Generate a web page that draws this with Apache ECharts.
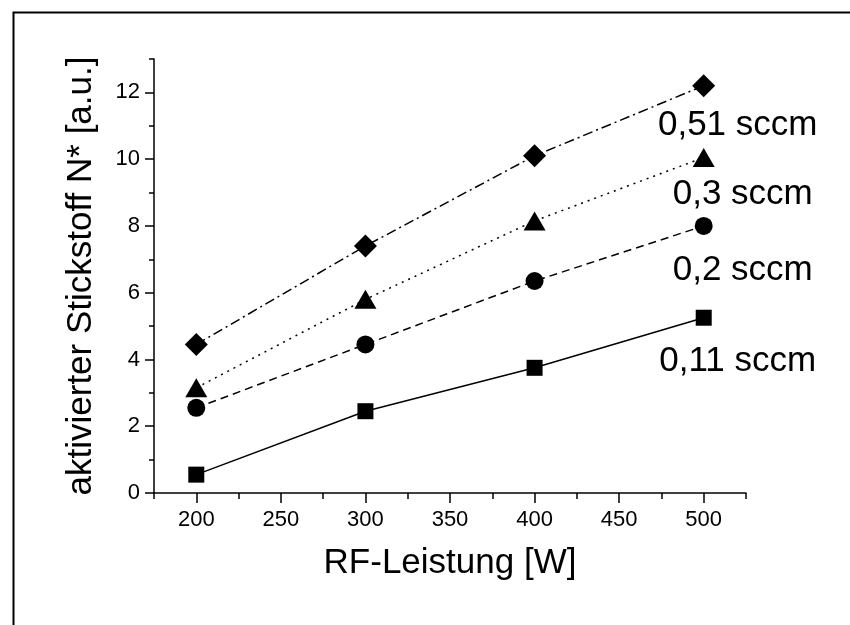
<!DOCTYPE html>
<html>
<head>
<meta charset="utf-8">
<script src="https://cdn.jsdelivr.net/npm/echarts@6/dist/echarts.min.js"></script>
<style>html,body{margin:0;padding:0;background:#fff;}#chart{width:850px;height:625px;}</style>
</head>
<body>
<div id="chart"></div>
<script>
// ---- data ----
const xValues = [200, 300, 400, 500];
const s011 = [0.55, 2.45, 3.75, 5.25];   // squares, solid
const s02  = [2.55, 4.45, 6.35, 8.0];    // circles, dashed
const s03  = [3.15, 5.8, 8.15, 10.05];   // triangles, dotted
const s051 = [4.45, 7.4, 10.1, 12.2];    // diamonds, dash-dot
const seriesNames = ['0,11 sccm', '0,2 sccm', '0,3 sccm', '0,51 sccm'];
const xMajorTicks = [200, 250, 300, 350, 400, 450, 500];
const xMinorTicks = [175, 225, 275, 325, 375, 425, 475, 525];
const yMajorTicks = [0, 2, 4, 6, 8, 10, 12];
const yMinorTicks = [1, 3, 5, 7, 9, 11, 13];
const xTitle = 'RF-Leistung [W]';
const yTitle = 'aktivierter Stickstoff N* [a.u.]';

const FONT = '"Liberation Sans", Arial, sans-serif';

function mk(vals, name, symbol, size, dash, labelOffset) {
  return {
    type: 'line',
    name: name,
    xAxisIndex: 0, yAxisIndex: 0,
    symbol: symbol,
    symbolSize: size,
    showAllSymbol: true,
    itemStyle: { color: '#000' },
    lineStyle: { color: '#000', width: 1.5, type: dash },
    z: 5,
    data: vals.map((v, i) => {
      const d = { value: [xValues[i], v] };
      if (i === vals.length - 1) {
        d.label = {
          show: true, position: 'inside', offset: labelOffset,
          formatter: name, color: '#000', fontSize: 35, fontFamily: FONT
        };
      }
      return d;
    }),
    animation: false
  };
}

const chart = echarts.init(document.getElementById('chart'), null, { renderer: 'canvas' });
chart.setOption({
  animation: false,
  backgroundColor: '#fff',
  grid: { left: 154, right: 104, top: 59, bottom: 132, containLabel: false },
  xAxis: [
    {
      type: 'value', min: 175, max: 525, position: 'bottom',
      splitLine: { show: false },
      axisLine: { show: true, lineStyle: { color: '#000', width: 1.5 } },
      axisTick: { show: true, inside: false, length: 10, customValues: xMajorTicks, lineStyle: { color: '#000', width: 1.5 } },
      axisLabel: { customValues: xMajorTicks, color: '#000', fontSize: 22, fontFamily: FONT, margin: 16 },
      name: xTitle, nameLocation: 'middle', nameGap: 53,
      nameTextStyle: { color: '#000', fontSize: 35, fontFamily: FONT }
    },
    {
      type: 'value', min: 175, max: 525, position: 'bottom', gridIndex: 0,
      splitLine: { show: false },
      axisLine: { show: false },
      axisTick: { show: true, inside: false, length: 6, customValues: xMinorTicks, lineStyle: { color: '#000', width: 1.5 } },
      axisLabel: { show: false }
    }
  ],
  yAxis: [
    {
      type: 'value', min: 0, max: 13, position: 'left',
      splitLine: { show: false },
      axisLine: { show: true, lineStyle: { color: '#000', width: 1.5 } },
      axisTick: { show: true, inside: false, length: 9, customValues: yMajorTicks, lineStyle: { color: '#000', width: 1.5 } },
      axisLabel: { customValues: yMajorTicks, color: '#000', fontSize: 22, fontFamily: FONT, margin: 14 },
      name: yTitle, nameLocation: 'middle', nameGap: 55,
      nameTextStyle: { color: '#000', fontSize: 35, fontFamily: FONT }
    },
    {
      type: 'value', min: 0, max: 13, position: 'left', gridIndex: 0,
      splitLine: { show: false },
      axisLine: { show: false },
      axisTick: { show: true, inside: false, length: 5, customValues: yMinorTicks, lineStyle: { color: '#000', width: 1.5 } },
      axisLabel: { show: false }
    }
  ],
  graphic: [
    {
      type: 'rect', left: 11, top: 10, silent: true,
      shape: { x: 0, y: 0, width: 900, height: 700 },
      style: { fill: 'none', stroke: '#000', lineWidth: 2 }
    }
  ],
  series: [
    mk(s011, seriesNames[0], 'rect', 16, 'solid', [34, 44]),
    mk(s02, seriesNames[1], 'circle', 18, [8, 5], [39, 44]),
    mk(s03, seriesNames[2], 'triangle', [22, 19], [2, 5], [39, 37]),
    mk(s051, seriesNames[3], 'diamond', [23, 23], [10, 4, 2, 4], [34, 40])
  ]
});
</script>
</body>
</html>
